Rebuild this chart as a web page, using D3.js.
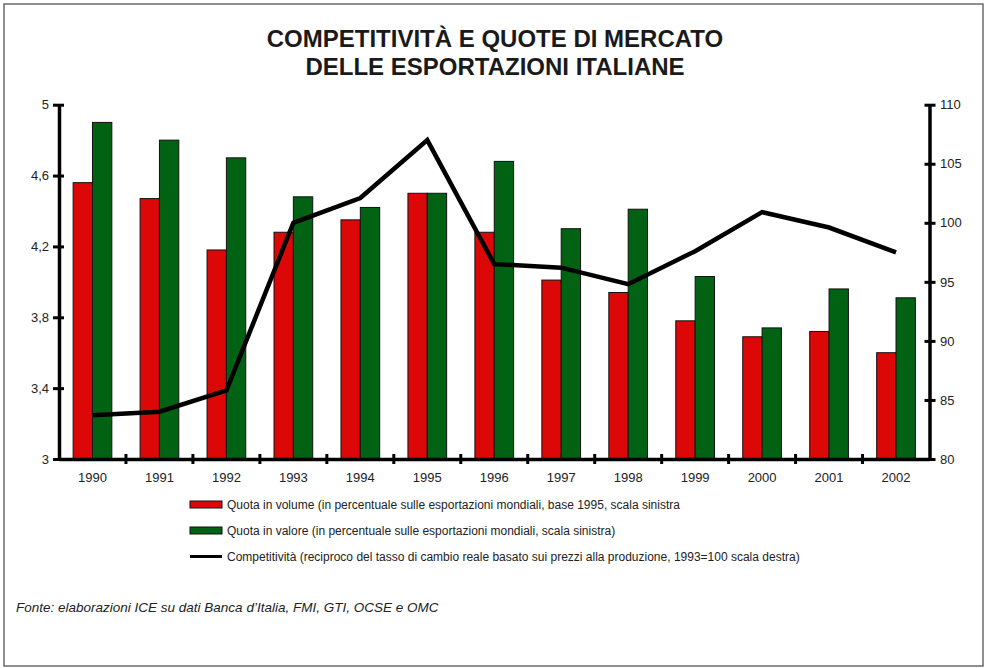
<!DOCTYPE html>
<html>
<head>
<meta charset="utf-8">
<script src="https://cdn.jsdelivr.net/npm/d3@7"></script>
<style>
  html, body { margin: 0; padding: 0; background: #fff; }
  svg { display: block; font-family: Arial, "Liberation Sans", sans-serif; }
</style>
</head>
<body>
<svg id="chart" width="986" height="668"></svg>
<script>
// Anni e serie
const years = ["1990","1991","1992","1993","1994","1995","1996","1997","1998","1999","2000","2001","2002"];
const quotaVolume = [4.56, 4.47, 4.18, 4.28, 4.35, 4.50, 4.28, 4.01, 3.94, 3.78, 3.69, 3.72, 3.60];
const quotaValore = [4.90, 4.80, 4.70, 4.48, 4.42, 4.50, 4.68, 4.30, 4.41, 4.03, 3.74, 3.96, 3.91];
const competitivita = [83.7, 84.0, 85.8, 100.0, 102.1, 107.0, 96.5, 96.2, 94.8, 97.6, 100.9, 99.6, 97.5];

// Tacche degli assi
const leftTicks = [3, 3.4, 3.8, 4.2, 4.6, 5];
const rightTicks = [80, 85, 90, 95, 100, 105, 110];

// Testi
const titleLines = ["COMPETITIVITÀ E QUOTE DI MERCATO", "DELLE ESPORTAZIONI ITALIANE"];
const seriesNames = ["volume", "valore"];
const legendLabels = [
  "Quota in volume (in percentuale sulle esportazioni mondiali, base 1995, scala sinistra",
  "Quota in valore (in percentuale sulle esportazioni mondiali, scala sinistra)",
  "Competitività (reciproco del tasso di cambio reale basato sui prezzi alla produzione, 1993=100 scala destra)"
];
const sourceNote = "Fonte: elaborazioni ICE su dati Banca d’Italia, FMI, GTI, OCSE e OMC";

const RED = "#dc0808";
const GREEN = "#026214";
const FONT = "Arial, 'Liberation Sans', sans-serif";

const svg = d3.select("#chart");

// cornice
svg.append("rect")
  .attr("x", 4).attr("y", 4).attr("width", 979).attr("height", 662)
  .attr("fill", "#fff").attr("stroke", "#6b6b6b").attr("stroke-width", 1.5);

// titolo
svg.append("g").selectAll("text").data(titleLines).join("text")
  .attr("x", 495).attr("y", (d, i) => 46.5 + i * 28)
  .attr("text-anchor", "middle")
  .attr("font-size", 24).attr("font-weight", "bold").attr("fill", "#1a1a1a")
  .text(d => d);

const plotLeft = 59, plotRight = 929.5, plotTop = 104.7, plotBottom = 459;

const x0 = d3.scaleBand().domain(years).range([plotLeft, plotRight]).padding(0);
const x1 = d3.scaleBand().domain(seriesNames).range([0, x0.bandwidth()])
  .paddingInner(0).paddingOuter(0.73);
const yL = d3.scaleLinear().domain([3, 5]).range([plotBottom, plotTop]);
const yR = d3.scaleLinear().domain([80, 110]).range([plotBottom, plotTop]);

const comma = d3.formatLocale({decimal: ",", thousands: ".", grouping: [3], currency: ["", "€"]}).format("~g");

// barre
const rows = years.map((y, i) => ({year: y, volume: quotaVolume[i], valore: quotaValore[i]}));
const bars = svg.append("g");
rows.forEach(r => {
  seriesNames.forEach(s => {
    bars.append("rect")
      .attr("x", x0(r.year) + x1(s))
      .attr("y", yL(r[s]))
      .attr("width", x1.bandwidth())
      .attr("height", yL(3) - yL(r[s]))
      .attr("fill", s === "volume" ? RED : GREEN)
      .attr("stroke", "#111").attr("stroke-width", 1);
  });
});

// linea della competitività
const line = d3.line()
  .x((d, i) => x0(years[i]) + x0.bandwidth() / 2)
  .y(d => yR(d));
svg.append("path")
  .datum(competitivita)
  .attr("d", line)
  .attr("fill", "none").attr("stroke", "#000").attr("stroke-width", 4.5)
  .attr("stroke-linejoin", "miter");

// asse sinistro
const axL = svg.append("g").attr("transform", `translate(${plotLeft},0)`)
  .call(d3.axisLeft(yL).tickValues(leftTicks).tickFormat(comma).tickSizeOuter(0));
axL.select(".domain").attr("stroke", "#000").attr("stroke-width", 3.5);
axL.selectAll(".tick line").attr("x1", -6).attr("x2", 5).attr("stroke-width", 3);
axL.selectAll(".tick text").attr("x", -10).attr("font-size", 13)
  .attr("font-family", FONT).attr("fill", "#222");

// asse destro
const axR = svg.append("g").attr("transform", `translate(${plotRight},0)`)
  .call(d3.axisRight(yR).tickValues(rightTicks).tickSizeOuter(0));
axR.select(".domain").attr("stroke", "#000").attr("stroke-width", 3.5);
axR.selectAll(".tick line").attr("x1", -5).attr("x2", 6).attr("stroke-width", 3);
axR.selectAll(".tick text").attr("x", 10.5).attr("font-size", 13)
  .attr("font-family", FONT).attr("fill", "#222");

// asse orizzontale con tacche tra le categorie
const axB = svg.append("g").attr("transform", `translate(0,${plotBottom})`)
  .call(d3.axisBottom(x0).tickSize(0).tickSizeOuter(0));
axB.select(".domain").attr("stroke", "#000").attr("stroke-width", 3.5);
axB.selectAll(".tick text").attr("y", 13.5).attr("dy", "0.71em").attr("font-size", 13)
  .attr("font-family", FONT).attr("fill", "#222");
axB.selectAll(".sep").data(years.slice(1)).join("line")
  .attr("class", "sep")
  .attr("x1", d => x0(d)).attr("x2", d => x0(d))
  .attr("y1", -5).attr("y2", 5)
  .attr("stroke", "#000").attr("stroke-width", 3);

// legenda
const lg = svg.append("g").attr("transform", "translate(190,0)");
const legendY = [504.5, 530.5, 556.5];
[RED, GREEN].forEach((c, i) => {
  lg.append("rect").attr("x", 0).attr("y", legendY[i] - 3.5).attr("width", 32).attr("height", 7)
    .attr("fill", c).attr("stroke", "#111").attr("stroke-width", 1);
});
lg.append("line").attr("x1", 0).attr("x2", 32).attr("y1", legendY[2]).attr("y2", legendY[2])
  .attr("stroke", "#000").attr("stroke-width", 3);
lg.selectAll("text").data(legendLabels).join("text")
  .attr("x", 37).attr("y", (d, i) => legendY[i] + 4.5)
  .attr("font-size", 12).attr("fill", "#222")
  .text(d => d);

// fonte
svg.append("text")
  .attr("x", 16).attr("y", 612)
  .attr("font-size", 13.5).attr("font-style", "italic").attr("fill", "#222")
  .text(sourceNote);
</script>
</body>
</html>
